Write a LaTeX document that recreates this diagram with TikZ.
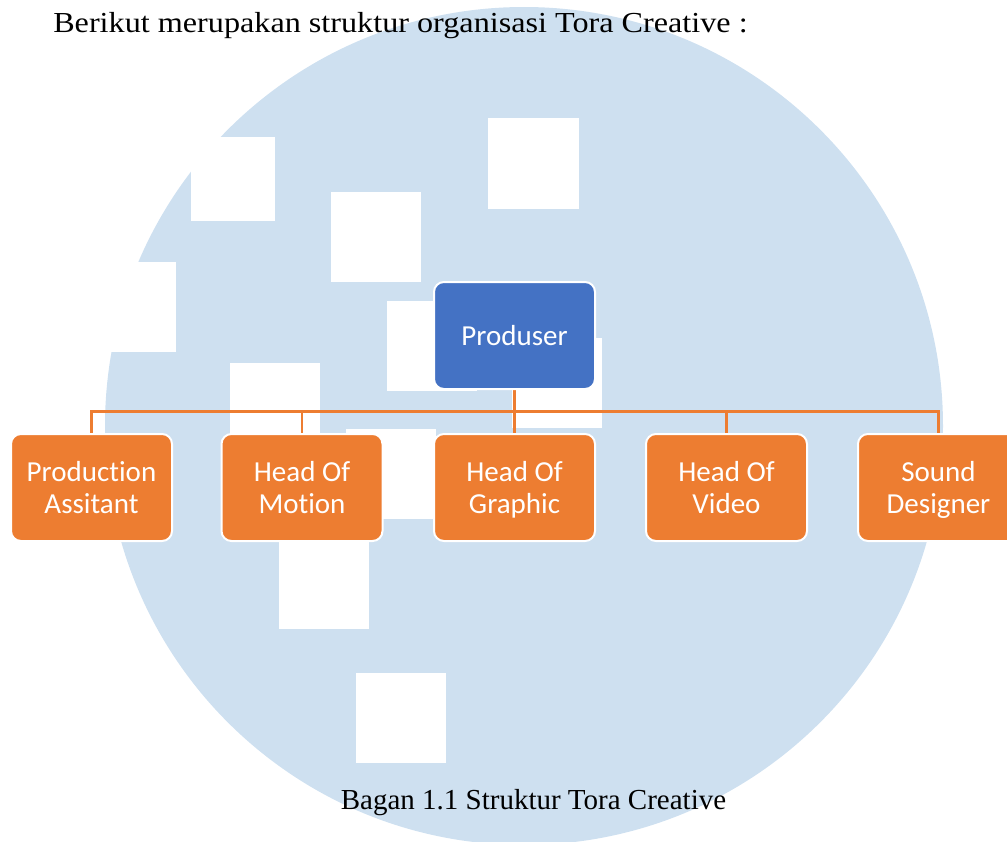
\documentclass[tikz,border=0pt]{standalone}
\usepackage{fontspec}
\setmainfont{Liberation Serif}
\newfontfamily\boxfont[Ligatures=NoCommon]{Carlito}
\newfontfamily\widefont[FakeStretch=1.11]{Liberation Serif}
\usepackage{xcolor}
\usepackage{tikz}
\usetikzlibrary{backgrounds}

\definecolor{wmblue}{RGB}{206,224,240}
\definecolor{chartblue}{RGB}{68,114,196}
\definecolor{chartorange}{RGB}{237,125,49}

\tikzset{
    unitbox/.style={draw=white, line width=1.5pt, rounded corners=7.5pt,
        minimum width=120.75pt, minimum height=80.25pt, align=center,
        text=white, font=\boxfont\fontsize{21.75}{24}\selectfont},
    rowbox/.style={unitbox, fill=chartorange, text depth=0pt},
    link/.style={draw=chartorange, line width=2pt}
}

\begin{document}
\begin{tikzpicture}[x=0.75pt, y=-0.75pt]
    \useasboundingbox (0,0) rectangle (1007,842);
    \clip (0,0) rectangle (1007,842);

    % Watermark circle with white squares
    \begin{scope}[on background layer]
        \fill[wmblue] (524,426) circle (419);
        \foreach \x/\y/\s in {191/137/84, 331/192/90, 488/118/91, 86/262/90,
            387/301/90, 512/338/90, 230/363/90, 346/429/90, 279/539/90, 356/673/90}
            \fill[white] (\x,\y) rectangle ++(\s,\s);
    \end{scope}

    % Top box
    \node[unitbox, fill=chartblue] (prod) at (514.5,335.5) {Produser};

    % Row of boxes
    \foreach \name/\x/\txt in {assist/91.5/{Production\\Assitant},
        motion/302/{Head Of\\Motion}, graphic/514.5/{Head Of\\Graphic},
        video/726.5/{Head Of\\Video}, sound/938.5/{Sound\\Designer}}
        \node[rowbox] (\name) at (\x,487.5) {\txt};

    % Connectors
    \coordinate (bar) at (0,411.5);
    \begin{scope}[on background layer]
        \draw[link] (prod.south) -- (graphic.north);
        \draw[link] (assist.north) -- (assist.north |- bar) -- (sound.north |- bar) -- (sound.north);
        \foreach \name in {motion, video}
            \draw[link] (\name.north) -- (\name.north |- bar);
    \end{scope}

    % Texts
    \node[anchor=base west, inner sep=0pt, font=\widefont\fontsize{21.75}{26}\selectfont] (intro) at (53,33)
        {Berikut merupakan struktur organisasi Tora Creative :};
    \node[anchor=base, inner sep=0pt, font=\fontsize{21.75}{26}\selectfont] (caption) at (533.5,809)
        {Bagan 1.1 Struktur Tora Creative};
\end{tikzpicture}
\end{document}
